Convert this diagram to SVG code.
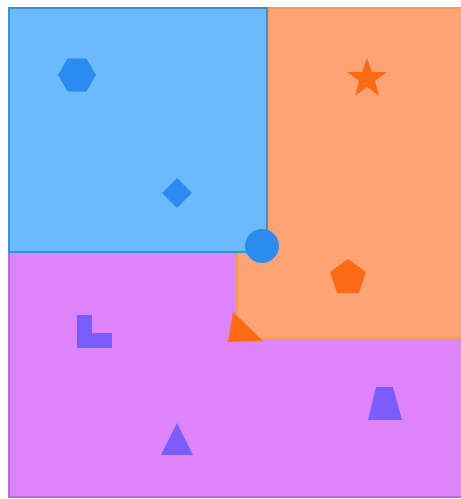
<svg xmlns="http://www.w3.org/2000/svg" width="461" height="499" viewBox="0 0 461 499">
<style>
.rb{fill:#6cb9fc;stroke:#3d8fd6;stroke-width:2}
.ro{fill:#fca474;stroke:#f59a5a;stroke-width:2}
.rp{fill:#dd84fb;stroke:#b070d8;stroke-width:2}
.sb{fill:#2b8cf0}
.so{fill:#fc6a16}
.sp{fill:#7b5cfc}
</style>
<rect width="461" height="499" fill="#ffffff"/>
<g id="region-purple"><path class="rp" d="M9,252 H237 V338 H462 V497 H9 Z"/></g>
<g id="region-orange"><path class="ro" d="M267,8 H462 V338 H237 V252 H267 Z"/></g>
<g id="region-blue"><path class="rb" d="M9,8 H267 V252 H9 Z"/></g>
<g id="hexagon"><polygon class="sb" points="96,75 86.5,91.5 67.5,91.5 58,75 67.5,58.5 86.5,58.5"/></g>
<g id="diamond"><polygon class="sb" points="177,178 192,193 177,208 162,193"/></g>
<g id="circle"><circle class="sb" cx="262" cy="246" r="17"/></g>
<g id="star"><polygon class="so" points="367,58 372,72 387,72 375,81 379,96 367,87 355,96 359,81 347,72 362,72"/></g>
<g id="pentagon"><polygon class="so" points="348,259 366,272 359,293 337,293 330,272"/></g>
<g id="triangle-orange"><polygon class="so" points="233,312 263,341 228,342"/></g>
<g id="lshape"><polygon class="sp" points="77,315 92,315 92,333 112,333 112,348 77,348"/></g>
<g id="trapezoid"><polygon class="sp" points="376,387 393,387 402,420 368,420"/></g>
<g id="triangle-purple"><polygon class="sp" points="177,423 193,455 161,455"/></g>
</svg>
